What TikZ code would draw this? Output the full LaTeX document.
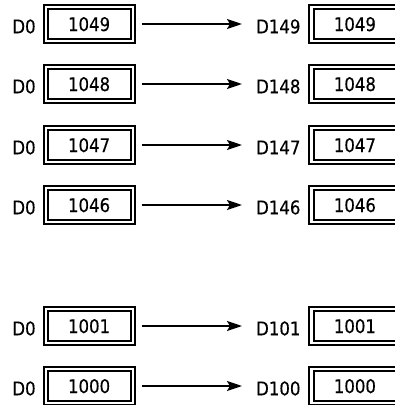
\documentclass[tikz,border=0pt]{standalone}
\usepackage{fontspec}
\setmainfont{DejaVu Sans}[FakeStretch=0.88,FakeBold=0.4]
\usetikzlibrary{arrows.meta}
\begin{document}
\begin{tikzpicture}[x=1pt,y=-1pt,
  box/.style={draw, double, line width=2pt, double distance=2.2pt,
    minimum width=87pt, minimum height=34pt, inner sep=0pt, outer sep=0pt,
    text height=14pt, text depth=0pt, font=\fontsize{18.8}{22}\selectfont},
  lbl/.style={inner sep=0pt, font=\fontsize{18.8}{22}\selectfont, anchor=base},
  arr/.style={line width=2pt, -{Stealth[length=15pt,width=10pt,inset=3pt]},
    shorten <=9.1pt, shorten >=69.4pt}]
\useasboundingbox (0,0) rectangle (395,405);
\clip (0,0) rectangle (395,405);
\foreach \n/\y in {1049/24, 1048/84, 1047/145, 1046/205, 1001/326, 1000/386}{
  \pgfmathtruncatemacro{\r}{\n-900}
  \node[lbl] (a\n) at (24,\y+9.3) {D0};
  \node[box] (L\n) at (89.1,\y) {\n};
  \node[box] (R\n) at (354.9,\y) {\n};
  \node[lbl] (b\n) at (278.3,\y+9.3) {D\r};
  \draw[arr] (L\n) -- (R\n);
}
\end{tikzpicture}
\end{document}
